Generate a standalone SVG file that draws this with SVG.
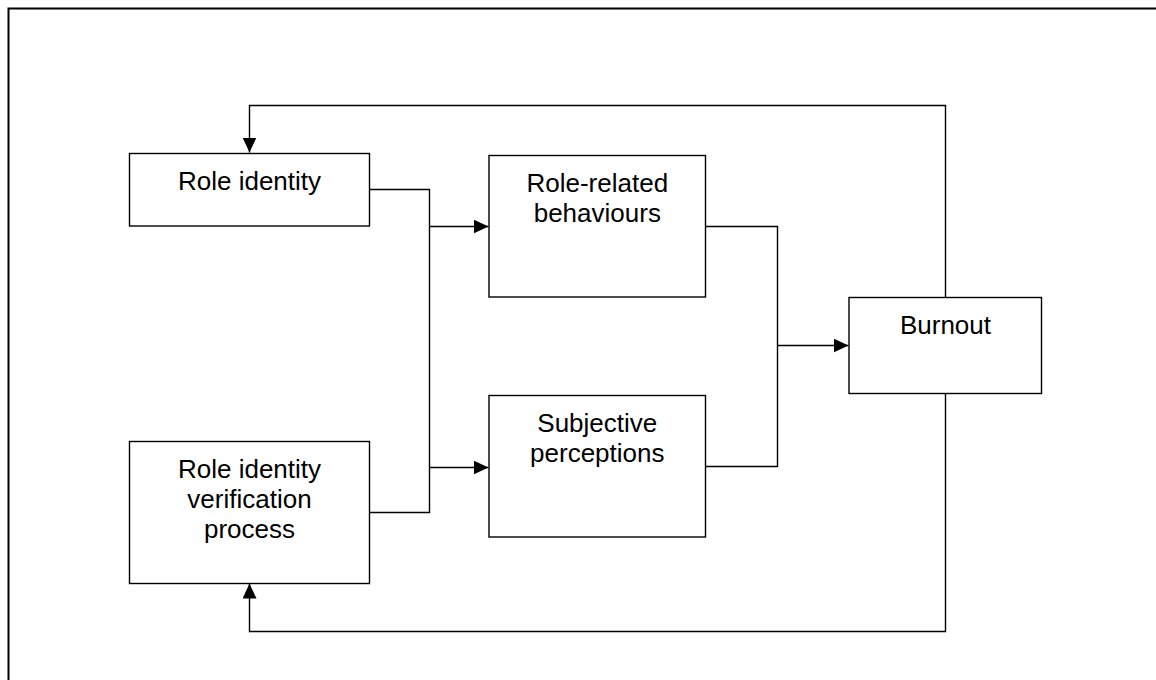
<svg xmlns="http://www.w3.org/2000/svg" width="1156" height="680" viewBox="0 0 1156 680">
  <defs>
    <style>
      .box { fill: #ffffff; stroke: #000000; stroke-width: 1.4; }
      .lbl { font-family: "Liberation Sans", Arial, sans-serif; font-size: 26px; fill: #000000; text-anchor: middle; }
      .wire { fill: none; stroke: #000000; stroke-width: 1.4; }
      .frame { fill: none; stroke: #000000; stroke-width: 2; }
    </style>
    <marker id="arrow" markerUnits="userSpaceOnUse" markerWidth="16" markerHeight="14" refX="15" refY="7" orient="auto">
      <path d="M0,0 L15,7 L0,14 Z" fill="#000000"/>
    </marker>
  </defs>

  <rect x="0" y="0" width="1156" height="680" fill="#ffffff"/>
  <!-- page frame (left and top edges only) -->
  <path class="frame" d="M8.5,680 V8.5 H1156"/>

  <!-- connectors -->
  <g id="connectors">
    <!-- role identity / verification merge into two inputs -->
    <path class="wire" d="M369,189.5 H429.5 V512.5 H369"/>
    <path class="wire" d="M429.5,226.5 H488.5" marker-end="url(#arrow)"/>
    <path class="wire" d="M429.5,467.5 H488.5" marker-end="url(#arrow)"/>
    <!-- behaviours / perceptions merge into burnout -->
    <path class="wire" d="M705.5,226.5 H777.5 V466.5 H705.5"/>
    <path class="wire" d="M777.5,345.5 H848.5" marker-end="url(#arrow)"/>
    <!-- feedback loops from burnout -->
    <path class="wire" d="M945.5,297.5 V105.5 H249.5 V152.5" marker-end="url(#arrow)"/>
    <path class="wire" d="M945.5,393.5 V631.5 H249.5 V583.5" marker-end="url(#arrow)"/>
  </g>

  <g id="role-identity">
    <rect class="box" x="129.5" y="153.5" width="240" height="72.5"/>
    <text class="lbl" x="249.5" y="189.5">Role identity</text>
  </g>

  <g id="verification">
    <rect class="box" x="129.5" y="441.5" width="240" height="142"/>
    <text class="lbl" x="249.5" y="477.5">Role identity</text>
    <text class="lbl" x="249.5" y="507.5">verification</text>
    <text class="lbl" x="249.5" y="537.5">process</text>
  </g>

  <g id="behaviours">
    <rect class="box" x="489" y="155.5" width="216.5" height="141.5"/>
    <text class="lbl" x="597.3" y="191.5">Role-related</text>
    <text class="lbl" x="597.3" y="221.5">behaviours</text>
  </g>

  <g id="perceptions">
    <rect class="box" x="489" y="395.5" width="216.5" height="141.5"/>
    <text class="lbl" x="597.3" y="431.5">Subjective</text>
    <text class="lbl" x="597.3" y="461.5">perceptions</text>
  </g>

  <g id="burnout">
    <rect class="box" x="849" y="297.5" width="192.5" height="96"/>
    <text class="lbl" x="945.5" y="333.5">Burnout</text>
  </g>
</svg>
